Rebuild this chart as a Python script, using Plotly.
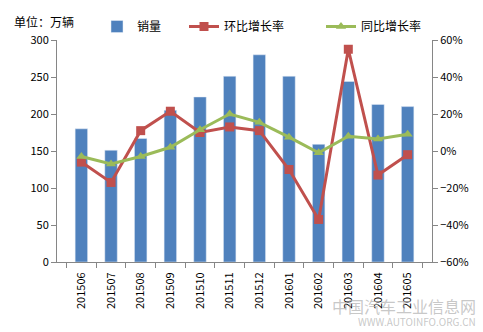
import plotly.graph_objects as go

months = ["201506", "201507", "201508", "201509", "201510", "201511",
          "201512", "201601", "201602", "201603", "201604", "201605"]
sales = [180, 151, 167, 205, 223, 251, 280, 251, 159, 244, 213, 210]
mom = [-6, -17, 11, 21.5, 10, 13, 11, -10, -37, 55, -13, -2]
yoy = [-3, -7, -3, 2, 11.5, 20, 15.5, 7.5, -1, 8, 6.5, 9]

BLUE = "#4F81BD"
RED = "#C0504D"
GREEN = "#9BBB59"
FONT = "Noto Sans CJK SC, DejaVu Sans, sans-serif"

W, H = 483, 332
L, R, T, B = 57, 51, 40, 70
PW, PH = W - L - R, H - T - B


def px_x(x):
    return (x - L) / PW


def px_y(y):
    return (H - B - y) / PH


fig = go.Figure()
fig.add_trace(go.Bar(x=months, y=sales, name="销量", marker_color=BLUE,
                     width=0.42, yaxis="y", legend="legend"))
fig.add_trace(go.Scatter(x=months, y=mom, name="环比增长率", yaxis="y2",
                         mode="lines+markers", legend="legend2",
                         line=dict(color=RED, width=3),
                         marker=dict(symbol="square", size=9, color=RED)))
fig.add_trace(go.Scatter(x=months, y=yoy, name="同比增长率", yaxis="y2",
                         mode="lines+markers", legend="legend3",
                         line=dict(color=GREEN, width=3),
                         marker=dict(symbol="triangle-up", size=9, color=GREEN)))

axis_common = dict(showgrid=False, zeroline=False, showline=True,
                   linecolor="#868686", linewidth=1, ticks="outside",
                   tickcolor="#868686", ticklen=5,
                   tickfont=dict(size=11, color="#000", family=FONT))


def leg(xpx):
    return dict(orientation="h", x=px_x(xpx), y=px_y(12),
                xanchor="left", yanchor="top",
                font=dict(size=12, family=FONT),
                bgcolor="rgba(0,0,0,0)")


fig.update_layout(
    width=W, height=H,
    margin=dict(l=L, r=R, t=T, b=B),
    paper_bgcolor="white", plot_bgcolor="white",
    font=dict(family=FONT, size=12, color="#000"),
    showlegend=True,
    legend=leg(97),
    legend2=leg(184),
    legend3=leg(321),
    xaxis=dict(type="category", tickson="boundaries", tickangle=-90,
               ticklabelstandoff=5, **axis_common),
    yaxis=dict(range=[0, 300], dtick=50, **axis_common),
    yaxis2=dict(range=[-60, 60], dtick=20, overlaying="y", side="right",
                ticksuffix="%", **axis_common),
    annotations=[
        dict(text="单位：万辆", x=px_x(12), y=px_y(22), xref="paper",
             yref="paper", xanchor="left", yanchor="middle",
             showarrow=False, font=dict(size=12, family=FONT)),
        dict(text="中国汽车工业信息网",
             x=px_x(478), y=px_y(320), xref="paper", yref="paper",
             xanchor="right", yanchor="bottom", showarrow=False,
             font=dict(size=16, color="rgba(175,175,175,0.7)", family=FONT)),
        dict(text="WWW.AUTOINFO.ORG.CN",
             x=px_x(478), y=px_y(331), xref="paper", yref="paper",
             xanchor="right", yanchor="bottom", showarrow=False,
             font=dict(size=10, color="rgba(175,175,175,0.7)", family=FONT)),
    ],
)

fig.write_html("out.html")
